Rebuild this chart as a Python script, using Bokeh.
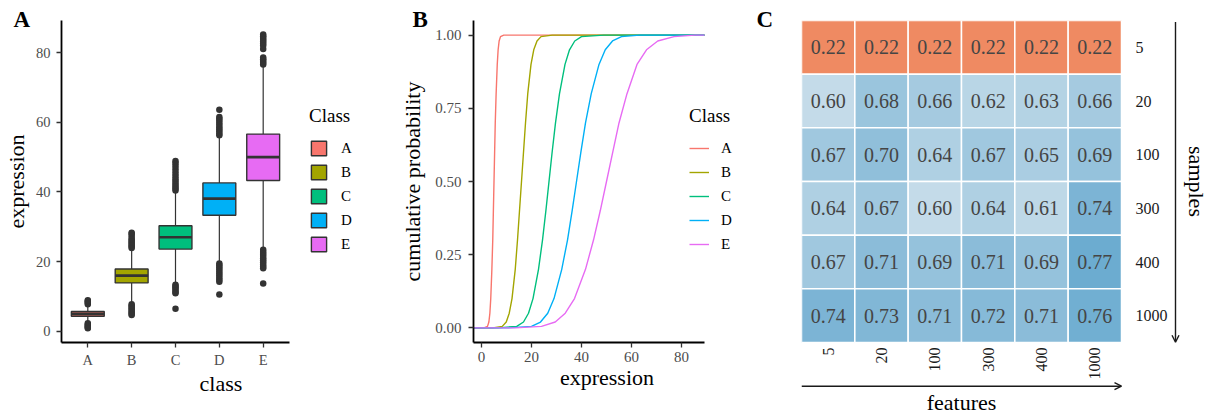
import math
from bokeh.plotting import figure
from bokeh.layouts import row
from bokeh.models import (Plot, Range1d, FixedTicker, Legend, LegendItem, Title, LinearAxis,
                          Arrow, OpenHead, NumeralTickFormatter, ColumnDataSource)
from bokeh.core.properties import value
from bokeh.embed import file_html
from bokeh.resources import INLINE

FONT = "Liberation Serif"

# ---------------- data ----------------
classes = ["A", "B", "C", "D", "E"]
class_colors = ["#F8766D", "#A3A500", "#00BF7D", "#00B0F6", "#E76BF3"]

# panel A: boxplot statistics
box_q1 = [4.35, 13.9, 23.6, 33.3, 43.3]
box_median = [5.0, 16.0, 27.0, 38.1, 50.0]
box_q3 = [5.7, 17.9, 30.3, 42.6, 56.6]
whisker_low = [2.5, 8.0, 13.8, 19.7, 23.8]
whisker_high = [7.6, 23.5, 40.0, 56.0, 76.2]
outliers_A = [7.8, 8.1, 8.4, 8.7, 8.9, 2.3, 2.0, 1.7, 1.4, 1.1, 0.9]
outliers_B = [23.9, 24.3, 24.7, 25.1, 25.5, 25.9, 26.3, 26.8, 27.4, 28.0, 28.3,
              7.8, 7.4, 7.0, 6.6, 6.2, 5.8, 5.4, 5.0, 4.7]
outliers_C = [40.4, 40.9, 41.4, 42.0, 42.6, 43.2, 43.8, 44.5, 45.2, 46.0, 46.8, 47.6, 48.3, 48.9,
              13.4, 13.0, 12.6, 12.2, 11.7, 11.2, 10.9, 6.5]
outliers_D = [63.6, 61.5, 61.0, 60.4, 59.8, 59.2, 58.6, 58.0, 57.4, 56.8, 56.3,
              19.5, 19.0, 18.4, 17.8, 17.2, 16.6, 16.0, 15.4, 14.8, 14.2, 10.6]
outliers_E = [85.2, 84.7, 84.2, 83.7, 83.2, 82.6, 82.0, 81.0, 78.6, 78.1, 77.6, 77.1, 76.6,
              23.4, 22.8, 22.2, 21.6, 21.0, 20.4, 19.8, 19.2, 18.6, 18.1, 13.7]
outliers = [outliers_A, outliers_B, outliers_C, outliers_D, outliers_E]

ecdf_prob = [0, 0.005, 0.02, 0.05, 0.1, 0.2, 0.3, 0.4, 0.5, 0.6, 0.7, 0.8, 0.9, 0.95, 0.98, 0.995, 1]
ecdf_A = [1.0, 2.4, 2.95, 3.35, 3.7, 4.15, 4.5, 4.75, 5.0, 5.25, 5.5, 5.85, 6.3, 6.65, 7.05, 7.6, 8.9]
ecdf_B = [4.5, 8.3, 9.9, 11.1, 12.2, 13.5, 14.4, 15.2, 16.0, 16.8, 17.6, 18.5, 19.8, 20.9, 22.2, 23.8, 28.3]
ecdf_C = [6.5, 14.1, 16.8, 18.8, 20.6, 22.8, 24.4, 25.75, 27.0, 28.25, 29.6, 31.2, 33.4, 35.2, 37.3, 40.0, 48.9]
ecdf_D = [10.5, 20.0, 23.6, 26.5, 29.0, 32.1, 34.4, 36.25, 38.0, 39.75, 41.6, 43.9, 47.0, 49.5, 52.4, 56.0, 63.3]
ecdf_E = [13.6, 24.0, 29.5, 33.5, 37.2, 41.6, 44.8, 47.5, 50.0, 52.5, 55.0, 58.2, 62.2, 66.0, 70.5, 77.0, 85.4]
ecdf_x = [ecdf_A, ecdf_B, ecdf_C, ecdf_D, ecdf_E]

# panel C: heatmap
features = ["5", "20", "100", "300", "400", "1000"]
samples = ["5", "20", "100", "300", "400", "1000"]
acc_5 = [0.22, 0.22, 0.22, 0.22, 0.22, 0.22]
acc_20 = [0.60, 0.68, 0.66, 0.62, 0.63, 0.66]
acc_100 = [0.67, 0.70, 0.64, 0.67, 0.65, 0.69]
acc_300 = [0.64, 0.67, 0.60, 0.64, 0.61, 0.74]
acc_400 = [0.67, 0.71, 0.69, 0.71, 0.69, 0.77]
acc_1000 = [0.74, 0.73, 0.71, 0.72, 0.71, 0.76]
acc_rows = [acc_5, acc_20, acc_100, acc_300, acc_400, acc_1000]

# ---------------- layout constants (pixels) ----------------
H = 418
TOP, BOTTOM = 20, 342           # frame top / bottom of the plotting areas
A_W, A_L = 380, 61              # panel A: frame 61..380, axis line 61..289
A_AXIS_R = 289
B_W, B_L = 360, 93              # panel B: frame 473..740, axis line 473..702
C_W, C_L = 469, 61              # panel C: frame 801..1209, grid 801..1121
C_GRID_R = 1121

HAS_FRAME_ALIGN = "frame_align" in Plot.properties()

AX_GREY = "#4D4D4D"
TICK = "#333333"
ARROW = "#1a1a1a"


def style_axis(ax, tick_size="14.5px"):
    ax.axis_line_color = "black"
    ax.axis_line_width = 1.8
    ax.major_tick_line_color = TICK
    ax.major_tick_line_width = 1.3
    ax.major_tick_out = 5
    ax.major_tick_in = 0
    ax.minor_tick_line_color = None
    ax.major_label_text_font = FONT
    ax.major_label_text_font_size = tick_size
    ax.major_label_text_color = AX_GREY
    ax.major_label_standoff = 4
    ax.axis_label_text_font = FONT
    ax.axis_label_text_font_size = "22px"
    ax.axis_label_text_font_style = "normal"
    ax.axis_label_text_color = "black"


def base_fig(width, left, bottom=H - BOTTOM, **kw):
    p = figure(output_backend="svg", toolbar_location=None, height=H, width=width,
               min_border_left=left, min_border_right=0, min_border_top=TOP,
               min_border_bottom=bottom, **kw)
    if HAS_FRAME_ALIGN:
        p.frame_align = False
    p.outline_line_color = None
    p.xgrid.visible = False
    p.ygrid.visible = False
    p.background_fill_color = "white"
    p.border_fill_color = "white"
    return p


def class_legend(items, vx, vy, glyph_w, standoff):
    return Legend(items=items, location=(vx, vy), title="Class",
                  title_text_font=FONT, title_text_font_size="19px", title_text_font_style="normal",
                  title_text_color="black", title_standoff=12,
                  label_text_font=FONT, label_text_font_size="15px", label_text_color="black",
                  glyph_width=glyph_w, glyph_height=18, label_height=18, label_width=12,
                  label_standoff=standoff, spacing=6,
                  padding=0, margin=0, border_line_color=None, background_fill_alpha=0)


def panel_letter(p, txt, offset):
    p.add_layout(Title(text=txt, align="left", offset=offset, standoff=-22,
                       text_font=FONT, text_font_size="23px", text_font_style="bold",
                       text_color="black"), "above")


# ---------------- panel A ----------------
pos = [i + 1 for i in range(len(classes))]
ppx_a = (A_AXIS_R - A_L) / (len(classes) + 0.2)
xa0, xa1 = 0.4, len(classes) + 0.6
pa = base_fig(A_W, A_L, x_range=Range1d(xa0, xa0 + (A_W - A_L) / ppx_a), y_range=Range1d(-3.2, 89.2))
pa.xaxis.ticker = FixedTicker(ticks=pos)
pa.xaxis.major_label_overrides = {p_: c for p_, c in zip(pos, classes)}
pa.xaxis.bounds = (xa0, xa1)
pa.yaxis.ticker = FixedTicker(ticks=[0, 20, 40, 60, 80])
style_axis(pa.xaxis[0])
style_axis(pa.yaxis[0])
pa.yaxis.major_label_standoff = 6
pa.xaxis.axis_label = "class"
pa.yaxis.axis_label = "expression"
pa.xaxis.axis_label_standoff = 0
pa.yaxis.axis_label_standoff = 4

legend_items_a = []
median_key = pa.line(x=[], y=[], line_color=TICK, line_width=2.2)
for i, c in enumerate(classes):
    x = pos[i]
    pa.segment(x0=[x], y0=[whisker_low[i]], x1=[x], y1=[whisker_high[i]], line_color=TICK, line_width=1.2)
    br = pa.vbar(x=[x], width=0.75, bottom=[box_q1[i]], top=[box_q3[i]], fill_color=class_colors[i],
                 line_color=TICK, line_width=1.4)
    pa.rect(x=[x], y=[box_median[i]], width=0.75, height=2.6, height_units="screen",
            fill_color=TICK, line_color=None)
    pa.scatter(x=[x] * len(outliers[i]), y=outliers[i], size=6.5, fill_color=TICK, line_color=None)
    legend_items_a.append(LegendItem(label=c, renderers=[br, median_key]))

pa.add_layout(class_legend(legend_items_a, 309 - A_L, BOTTOM - 253, 19, 13))
panel_letter(pa, "A", 13 - A_L)

# ---------------- panel B ----------------
x0b, x1b = -3.2, 89.2
ppx_b = 2.5
b_left_px = A_W + B_L
pb = base_fig(B_W, B_L, x_range=Range1d(x0b, x0b + (B_W - B_L) / ppx_b), y_range=Range1d(-0.05, 1.05))
pb.xaxis.ticker = FixedTicker(ticks=[0, 20, 40, 60, 80])
pb.xaxis.bounds = (x0b, x1b)
pb.yaxis.ticker = FixedTicker(ticks=[0, 0.25, 0.5, 0.75, 1.0])
pb.yaxis.formatter = NumeralTickFormatter(format="0.00")
style_axis(pb.xaxis[0], "15px")
style_axis(pb.yaxis[0], "15px")
pb.yaxis.major_label_standoff = 7
pb.xaxis.axis_label = "expression"
pb.yaxis.axis_label = "cumulative probability"
pb.xaxis.axis_label_standoff = 0
pb.yaxis.axis_label_standoff = 7

legend_items_b = []
for i, c in enumerate(classes):
    xs = [x0b] + ecdf_x[i] + [x1b]
    ys = [0] + ecdf_prob + [1]
    r = pb.line(xs, ys, line_color=class_colors[i], line_width=1.4)
    legend_items_b.append(LegendItem(label=c, renderers=[r]))

pb.add_layout(class_legend(legend_items_b, 689 - b_left_px, BOTTOM - 253, 20, 12))
panel_letter(pb, "B", 412 - b_left_px)

# ---------------- panel C ----------------
low_c = (239, 138, 98)
mid_c = (247, 247, 247)
high_c = (103, 169, 207)
midpoint = 0.5
all_vals = [v for r in acc_rows for v in r]
span = 2 * max(abs(min(all_vals) - midpoint), abs(max(all_vals) - midpoint))


def mix(a, b, t):
    return "#%02x%02x%02x" % tuple(int(round(a[k] + (b[k] - a[k]) * t)) for k in range(3))


def fill_for(v):
    r = (v - midpoint) / span + 0.5
    if r < 0.5:
        return mix(low_c, mid_c, r / 0.5)
    return mix(mid_c, high_c, (r - 0.5) / 0.5)


nf, ns = len(features), len(samples)
cx, cy, cf, ct = [], [], [], []
for si, s in enumerate(samples):
    for fi, f in enumerate(features):
        v = acc_rows[si][fi]
        cx.append(fi + 0.5)
        cy.append(ns - si - 0.5)
        cf.append(fill_for(v))
        ct.append("%.2f" % v)
src = ColumnDataSource(dict(x=cx, y=cy, fill=cf, txt=ct))

c_left_px = A_W + B_W + C_L
ppx_c = (C_GRID_R - c_left_px) / nf
ppy_c = (BOTTOM - TOP) / ns
fx = [i + 0.5 for i in range(nf)]
h_arrow_y = -(385.7 - BOTTOM) / ppy_c
cbottom = 0 if HAS_FRAME_ALIGN else H - BOTTOM
pc = base_fig(C_W, C_L, bottom=cbottom, x_range=Range1d(0, (C_W - C_L) / ppx_c),
              y_range=Range1d(-(H - BOTTOM) / ppy_c, ns),
              y_axis_location=None,
              x_axis_location=None if HAS_FRAME_ALIGN else "below")
pc.rect(x="x", y="y", width=1, height=1, source=src, fill_color="fill", line_color="white", line_width=1.5)
pc.text(x="x", y="y", text="txt", source=src, text_align="center", text_baseline="middle",
        text_font=value(FONT), text_font_size="20px", text_color="#454545")

if HAS_FRAME_ALIGN:
    # feature labels, arrow and title below the grid, all inside the frame
    pc.text(x=fx, y=[0] * nf, text=features, angle=math.pi / 2,
            y_offset=5, text_align="right", text_baseline="middle",
            text_font=value(FONT), text_font_size="16px", text_color=ARROW)
    pc.add_layout(Arrow(end=OpenHead(size=7, line_color=ARROW, line_width=1.4),
                        x_start=0, y_start=h_arrow_y, x_end=nf, y_end=h_arrow_y,
                        line_color=ARROW, line_width=1.4))
    pc.text(x=[nf / 2], y=[0], text=["features"], y_offset=60, text_align="center",
            text_baseline="middle", text_font=value(FONT), text_font_size="22px", text_color="black")
else:
    pc.y_range.start = 0
    axc = pc.xaxis[0]
    axc.ticker = FixedTicker(ticks=fx)
    axc.major_label_overrides = {t: f for t, f in zip(fx, features)}
    axc.major_label_orientation = math.pi / 2
    axc.axis_line_color = None
    axc.major_tick_line_color = None
    axc.minor_tick_line_color = None
    axc.major_tick_out = 0
    axc.major_tick_in = 0
    axc.major_label_standoff = 5
    axc.major_label_text_font = FONT
    axc.major_label_text_font_size = "16px"
    axc.major_label_text_color = ARROW
    axc.axis_label = " "
    axc.axis_label_text_font_size = "2px"
    axc.axis_label_standoff = 0
    ax2 = LinearAxis(ticker=FixedTicker(ticks=[]), bounds=(0, nf),
                     axis_line_color=ARROW, axis_line_width=1.4,
                     major_tick_out=0, major_tick_in=0, major_tick_line_color=None,
                     minor_tick_line_color=None, major_label_standoff=0,
                     axis_label="features", axis_label_standoff=3,
                     axis_label_text_font=FONT, axis_label_text_font_size="22px",
                     axis_label_text_font_style="normal", axis_label_text_color="black")
    pc.add_layout(ax2, "below")

# right side inside the frame: sample labels, arrow, "samples"
pc.text(x=[nf] * ns, y=[ns - j - 0.5 for j in range(ns)], text=samples, x_offset=14,
        text_align="left", text_baseline="middle",
        text_font=value(FONT), text_font_size="16px", text_color=ARROW)
xa = nf + (1175 - C_GRID_R) / ppx_c
pc.add_layout(Arrow(end=OpenHead(size=7, line_color=ARROW, line_width=1.4),
                    x_start=xa, y_start=ns - 1.5 / ppy_c, x_end=xa, y_end=0.3 / ppy_c,
                    line_color=ARROW, line_width=1.4))
pc.text(x=[nf], y=[ns / 2], text=["samples"], x_offset=75, angle=-math.pi / 2,
        text_align="center", text_baseline="middle",
        text_font=value(FONT), text_font_size="22px", text_color="black")
panel_letter(pc, "C", 756 - c_left_px)

layout = row(pa, pb, pc)
open("out.html", "w").write(file_html(layout, INLINE))
